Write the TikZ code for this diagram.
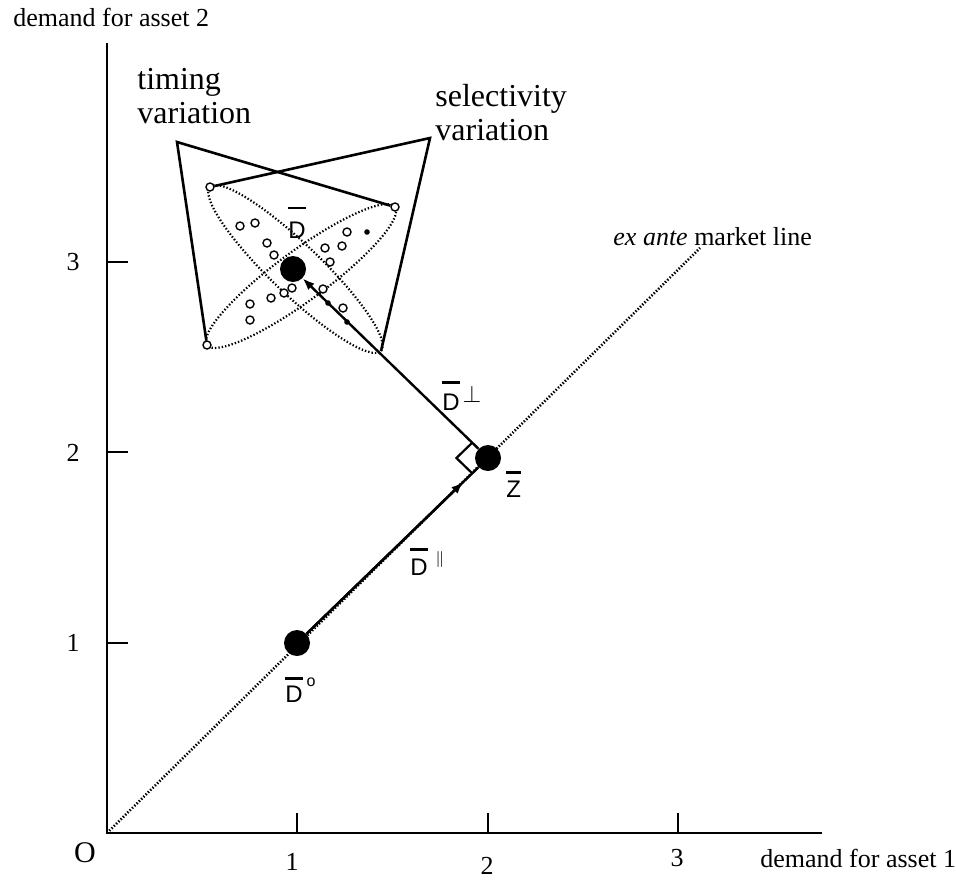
\documentclass[tikz,border=0pt]{standalone}
\usepackage{fontspec}
\setmainfont{Liberation Serif}
\setsansfont{Liberation Sans}
\usetikzlibrary{calc,arrows.meta}
\newcommand\barlab[2][3pt]{\vbox{\hrule height 1.1pt\kern#1\hbox{#2}}}
\begin{document}
\begin{tikzpicture}[x=0.5pt,y=-0.5pt,
  axis/.style={line width=1.3pt},
  tickmark/.style={line width=1pt},
  quad/.style={line width=1.3pt, line join=miter},
  mline/.style={line width=1.3pt, dash pattern=on 0.7pt off 0.9pt},
  edot/.style={line width=1.1pt, dash pattern=on 0.7pt off 1pt},
  vecline/.style={line width=1.2pt},
  bigdot/.style={circle, fill=black, inner sep=0pt, minimum size=13pt},
  opt/.style={circle, draw=black, line width=0.7pt, fill=white, inner sep=0pt, minimum size=4pt},
  fpt/.style={circle, fill=black, inner sep=0pt, minimum size=2.8pt},
  lab/.style={inner sep=0pt, font=\fontsize{13pt}{15pt}\selectfont},
  biglab/.style={inner sep=0pt, align=left, font=\fontsize{16pt}{17pt}\selectfont},
  vlab/.style={inner sep=0pt, font=\sffamily\fontsize{12pt}{14pt}\selectfont},
]
\useasboundingbox (0,0) rectangle (956,884);

% axes
\coordinate (O) at (107,833);
\coordinate (ytop) at (107,43);
\coordinate (xend) at (822,833);
\draw[axis] (ytop) -- (O) -- (xend);
\foreach \x in {297,488,678} \draw[tickmark] (\x,833) -- (\x,813);
\foreach \y in {262,452,643} \draw[tickmark] (107,\y) -- (128,\y);

% axis labels
\node[lab, anchor=base west] (ylab) at (13,26) {demand for asset 2};
\node[lab, anchor=base west] (xlab) at (760,867) {demand for asset 1};
\node[lab] (x1) at (292,862) {1};
\node[lab] (x2) at (487,866) {2};
\node[lab] (x3) at (677,858) {3};
\node[lab] (y3) at (73,262) {3};
\node[lab] (y2) at (73,453) {2};
\node[lab] (y1) at (73,643) {1};
\node[lab, font=\fontsize{15pt}{17pt}\selectfont] (olab) at (85,853) {O};

% market line
\coordinate (mend) at (700,248);
\draw[mline] (O) -- (mend);
\node[lab, anchor=base west] (mlab) at (613,245) {\textit{ex ante} market line};

% main points
\node[bigdot] (D0) at (297,643) {};
\node[bigdot] (Z) at (488,458) {};
\node[bigdot] (Db) at (293,269) {};

% ellipses
\draw[edot, rotate around={36.3:(301,276)}] (301,276) ellipse [x radius=58.3pt, y radius=12.5pt];
\draw[edot, rotate around={-43.8:(295.5,269)}] (295.5,269) ellipse [x radius=59.2pt, y radius=12.5pt];

% end points of ellipses and funnels
\node[opt] (t1) at (395,207) {};
\node[opt] (t2) at (207,345) {};
\node[opt] (s1) at (210,187) {};
\coordinate (s2) at (381,351);
\coordinate (T) at (177,142);
\coordinate (S) at (430,138);
\draw[quad] (t1) -- (T) -- (t2);
\draw[quad] (s1) -- (S) -- (s2);

% data points
\foreach \px/\py [count=\i] in {240/226,255/223,267/243,274/255,325/248,342/246,347/232,330/262,292/288,284/293,271/298,250/304,250/320,323/289,343/308}
  \node[opt] (p\i) at (\px,\py) {};
\node[fpt] (f1) at (367,232) {};
\node[fpt] (f2) at (328,303) {};
\node[fpt] (f3) at (347,322) {};

% vectors
\draw[vecline] (D0) -- (Z);
\draw[vecline, -{Latex[length=6pt,width=4.5pt]}] (D0) -- ($(D0)!0.87!(Z)$);
\draw[vecline, -{Latex[length=6pt,width=4.5pt]}] (Z) -- (Db);

% right angle
\coordinate (ra1) at ($(Z)!11pt!(Db)$);
\coordinate (ra3) at ($(Z)!11pt!(D0)$);
\coordinate (ra2) at ($(ra1)+(ra3)-(Z)$);
\draw[line width=1.1pt] (ra1) -- (ra2) -- (ra3);

% vector labels
\node[vlab, anchor=base west] (dblab) at (288,238) {\barlab[6pt]{D}};
\node[vlab, anchor=base west] (dperp) at (442,410) {\barlab[5pt]{D}\kern1.5pt\raisebox{4pt}{$\perp$}};
\node[vlab, anchor=base west] (dpar) at (410,575) {\barlab[4pt]{D}\kern4pt\raisebox{6pt}{$\scriptstyle\|$}};
\node[vlab, anchor=base west] (d0lab) at (285,702) {\barlab[3pt]{D}\kern2pt\raisebox{8pt}{\footnotesize o}};
\node[vlab, anchor=base west] (zlab) at (506,497) {\barlab[3.5pt]{Z}};

% variation labels
\node[biglab, anchor=north west] (tlab) at (137,68) {timing\\variation};
\node[biglab, anchor=north west] (slab) at (435,84) {selectivity\\variation};
\end{tikzpicture}
\end{document}
